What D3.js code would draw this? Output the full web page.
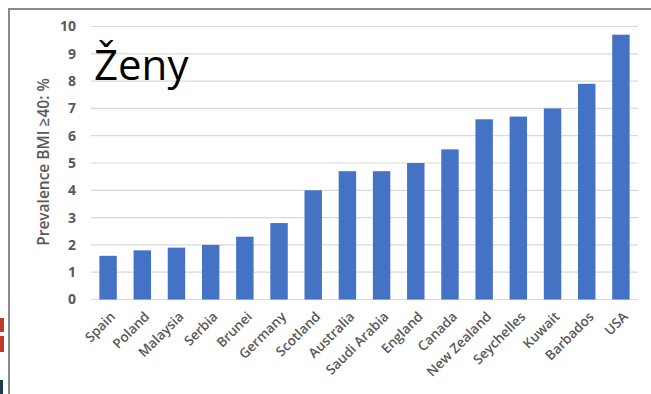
<!DOCTYPE html>
<html>
<head>
<meta charset="utf-8">
<script src="https://cdn.jsdelivr.net/npm/d3@7"></script>
<style>
  body { margin: 0; background: #fff; }
  svg { display: block; }
  text { font-family: "Open Sans", "Liberation Sans", sans-serif; }
</style>
</head>
<body>
<svg id="chart" width="651" height="394"></svg>
<script>
// data
let countries = ["Spain", "Poland", "Malaysia", "Serbia", "Brunei", "Germany", "Scotland",
  "Australia", "Saudi Arabia", "England", "Canada", "New Zealand", "Seychelles",
  "Kuwait", "Barbados", "USA"];
let prevalence = [1.6, 1.8, 1.9, 2.0, 2.3, 2.8, 4.0, 4.7, 4.7, 5.0, 5.5, 6.6, 6.7, 7.0, 7.9, 9.7];
let yTicks = [0, 1, 2, 3, 4, 5, 6, 7, 8, 9, 10];

let svg = d3.select("#chart");

// bits of the neighbouring slide at the left edge
svg.append("rect").attr("x", 0).attr("y", 318).attr("width", 4).attr("height", 14).attr("fill", "#c0392b");
svg.append("rect").attr("x", 0).attr("y", 336).attr("width", 4).attr("height", 16).attr("fill", "#c0392b");
svg.append("rect").attr("x", 0).attr("y", 380).attr("width", 3).attr("height", 14).attr("fill", "#1f3a4d");

// frame of the screenshot
svg.append("line").attr("x1", 9).attr("x2", 651).attr("y1", 9).attr("y2", 9)
  .attr("stroke", "#8a8a8a").attr("stroke-width", 2);
svg.append("line").attr("x1", 9).attr("x2", 9).attr("y1", 8).attr("y2", 394)
  .attr("stroke", "#8a8a8a").attr("stroke-width", 2);

let x = d3.scaleBand()
  .domain(countries)
  .range([91, 638])
  .paddingInner(0.49)
  .paddingOuter(0.245);

let y = d3.scaleLinear()
  .domain([0, 10])
  .range([299.5, 26.5]);

// gridlines
svg.append("g")
  .selectAll("line")
  .data(yTicks)
  .join("line")
  .attr("x1", 91).attr("x2", 638)
  .attr("y1", d => y(d)).attr("y2", d => y(d))
  .attr("stroke", "#d9d9d9").attr("stroke-width", 1.2);

// y axis labels
let yAxis = svg.append("g")
  .attr("transform", "translate(80,0)")
  .call(d3.axisLeft(y).tickValues(yTicks).tickSize(0).tickPadding(4));
yAxis.select(".domain").remove();
yAxis.selectAll("text")
  .attr("fill", "#595959")
  .style("font-size", "14px")
  .style("font-weight", "700")
  .style("font-family", "'Open Sans', sans-serif");

// bars
svg.append("g")
  .selectAll("rect")
  .data(countries)
  .join("rect")
  .attr("x", d => x(d))
  .attr("width", x.bandwidth())
  .attr("y", (d, i) => y(prevalence[i]))
  .attr("height", (d, i) => y(0) - y(prevalence[i]))
  .attr("fill", "#4472c4");

// x axis labels, rotated
let xAxis = svg.append("g")
  .attr("transform", "translate(0," + y(0) + ")")
  .call(d3.axisBottom(x).tickSize(0).tickPadding(0));
xAxis.select(".domain").remove();
xAxis.selectAll("text")
  .attr("fill", "#595959")
  .style("font-size", "13.5px")
  .style("font-weight", "600")
  .style("font-family", "'Open Sans', sans-serif")
  .attr("text-anchor", "end")
  .attr("dy", null)
  .attr("y", 0)
  .attr("transform", "translate(8,18) rotate(-45)");

// y axis title
svg.append("text")
  .attr("transform", "translate(49,162) rotate(-90)")
  .attr("text-anchor", "middle")
  .attr("fill", "#595959")
  .style("font-size", "15.5px")
  .style("font-weight", "600")
  .text("Prevalence BMI \u226540: %");

// big label
svg.append("text")
  .attr("x", 94)
  .attr("y", 80)
  .attr("fill", "#000")
  .style("font-size", "42px")
  .text("Ženy");
</script>
</body>
</html>
